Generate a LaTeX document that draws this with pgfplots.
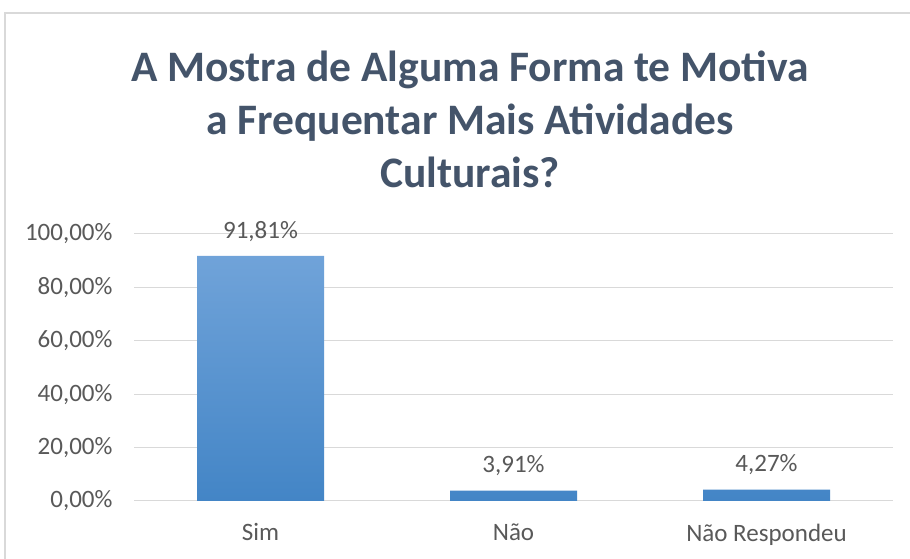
\documentclass[border=0pt]{standalone}
\usepackage{pgfplots}
\pgfplotsset{compat=1.18}
\usepackage{fontspec}
\setmainfont{Carlito}
\definecolor{titlec}{HTML}{44546A}
\definecolor{tickc}{HTML}{595959}
\definecolor{gridc}{HTML}{D9D9D9}
\definecolor{bartop}{HTML}{70A3D9}
\definecolor{barbot}{HTML}{4385C6}
\begin{document}
\begin{tikzpicture}[x=1bp,y=1bp]
\fill[white] (0,0) rectangle (910,559);
\draw[gridc, line width=1.5bp] (5,-10) -- (5,546) -- (920,546);
\node[text=titlec, font=\fontsize{43.5bp}{53bp}\selectfont\bfseries, align=center, anchor=center] at (470,440) {A Mostra de Alguma Forma te Motiva\\a Frequentar Mais Atividades\\Culturais?};
\begin{axis}[
  at={(134bp,58bp)}, anchor=south west,
  scale only axis, width=759bp, height=267bp,
  xmin=-0.5, xmax=2.5, ymin=0, ymax=100,
  axis line style={draw=none},
  tick style={draw=none},
  ymajorgrids, grid style={gridc, line width=1bp},
  ytick={0,20,...,100},
  xtick={0,1,2},
  xticklabels={Sim,Não,Não Respondeu},
  yticklabel={\pgfmathprintnumber[fixed,fixed zerofill,precision=2,use comma]{\tick}\%},
  /pgf/number format/assume math mode=true,
  ticklabel style={text=tickc, font=\fontsize{25bp}{28bp}\selectfont},
  yticklabel style={xshift=-18bp},
  xticklabel style={yshift=-15bp},
  clip=false,
  ybar, bar width=127bp,
  nodes near coords={\pgfmathprintnumber[fixed,fixed zerofill,precision=2,use comma]{\pgfplotspointmeta}\%},
  nodes near coords style={text=tickc, font=\fontsize{25bp}{28bp}\selectfont, yshift=11bp},
]
\addplot[draw=none, top color=bartop, bottom color=barbot] coordinates {(0,91.81) (1,3.91) (2,4.27)};
\end{axis}
\pgfresetboundingbox
\path[use as bounding box] (0,0) rectangle (910,559);
\end{tikzpicture}
\end{document}
